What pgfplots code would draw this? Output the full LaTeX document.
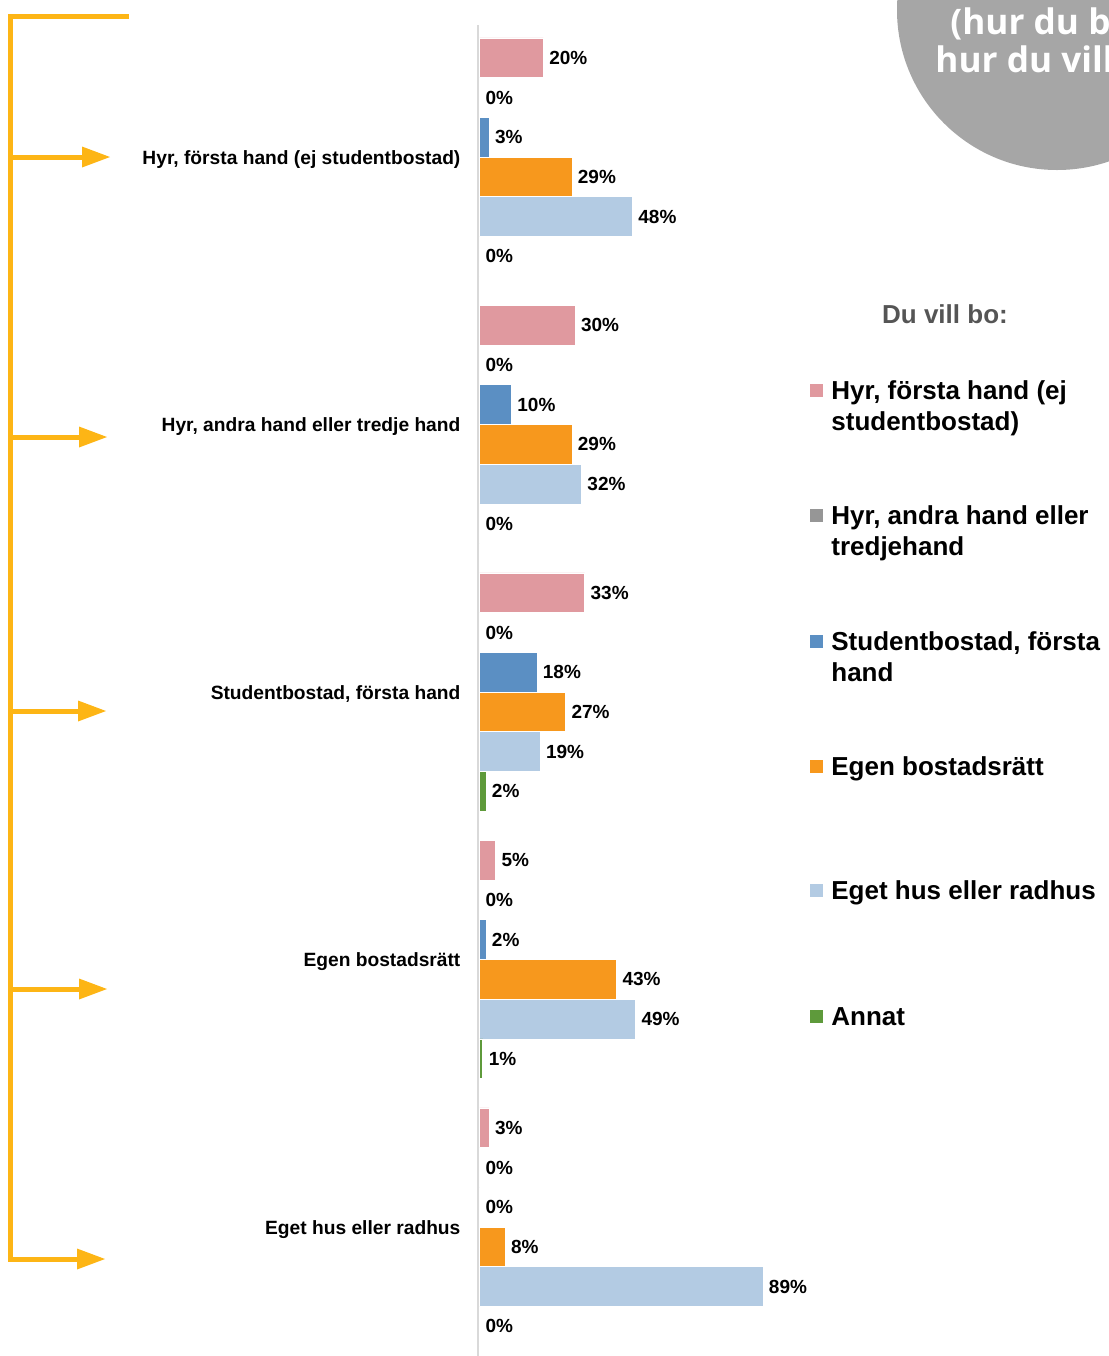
\documentclass[border=0pt]{standalone}
\usepackage{pgfplots}
\pgfplotsset{compat=1.18}
\usepackage{fontspec}
\setmainfont{Liberation Sans}
\newfontfamily\circfont{Open Sans}
\definecolor{cpink}{HTML}{E0999F}
\definecolor{cgray}{HTML}{969696}
\definecolor{cblue}{HTML}{5B8FC3}
\definecolor{corange}{HTML}{F7981D}
\definecolor{clight}{HTML}{B3CBE3}
\definecolor{cgreen}{HTML}{5E9A3B}
\definecolor{arrowc}{HTML}{FDB515}
\definecolor{circgray}{HTML}{A6A6A6}
\definecolor{axisgray}{HTML}{D9D9D9}
\definecolor{titlegray}{HTML}{555555}
\begin{document}
\begin{tikzpicture}
\useasboundingbox (0,0) rectangle (554.5pt,-678pt);
\begin{scope}[x=0.5pt,y=-0.5pt]
\clip (0,0) rectangle (1109,1356);
\fill[circgray] (1057,10) circle[radius=80pt];
\node[anchor=base west, text=white, inner sep=0pt, font=\circfont\bfseries\fontsize{17.6}{20}\selectfont] at (950,34) {(hur du bor)};
\node[anchor=base west, text=white, inner sep=0pt, font=\circfont\bfseries\fontsize{17.6}{20}\selectfont] at (935,72) {hur du vill bo)};
% bracket and arrows
\draw[arrowc, line width=2.5pt] (129,16.5) -- (10.5,16.5) -- (10.5,1259) -- (80,1259);
\fill[arrowc] (77,1248.5) -- (105,1259) -- (77,1269.5) -- cycle;
\foreach \yy/\tip in {157/110, 437/107, 711/106, 989/107}{
  \draw[arrowc, line width=2.5pt] (10.5,\yy) -- (82,\yy);
  \fill[arrowc] (\tip-28,\yy-10.5) -- (\tip,\yy) -- (\tip-28,\yy+10.5) -- cycle;
}
% legend
\node[anchor=base, inner sep=0pt, text=titlegray, font=\bfseries\fontsize{13}{15.5}\selectfont] at (945,323.5) {Du vill bo:};
\foreach \yy/\col in {390/cpink, 515/cgray, 641/cblue, 766/corange, 890/clight, 1016/cgreen}{
  \fill[\col] (810,\yy-6.5) rectangle (823,\yy+6.5);
}
\tikzset{legtxt/.style={anchor=base west, inner sep=0pt, font=\bfseries\fontsize{13}{15.5}\selectfont}}
\node[legtxt] at (831,399.3) {Hyr, första hand (ej};
\node[legtxt] at (831,430.3) {studentbostad)};
\node[legtxt] at (831,524.3) {Hyr, andra hand eller};
\node[legtxt] at (831,555.3) {tredjehand};
\node[legtxt] at (831,650.3) {Studentbostad, första};
\node[legtxt] at (831,681.3) {hand};
\node[legtxt] at (831,775.3) {Egen bostadsrätt};
\node[legtxt] at (831,899.3) {Eget hus eller radhus};
\node[legtxt] at (831,1025.3) {Annat};
\end{scope}
\begin{axis}[
  at={(239pt,-678pt)}, anchor=south west,
  scale only axis, width=160pt, height=665.5pt,
  xbar, bar width=19.85pt,
  xmin=-0.5, xmax=100,
  ymin=-0.4935, ymax=4.482, y dir=reverse,
  axis x line=none, axis y line*=left,
  y axis line style={draw=axisgray, line width=1.4pt, -},
  ytick={0,1,2,3,4},
  yticklabels={{Hyr, första hand (ej studentbostad)},{Hyr, andra hand eller tredje hand},{Studentbostad, första hand},{Egen bostadsrätt},{Eget hus eller radhus}},
  yticklabel style={font=\bfseries\fontsize{9.6}{11}\selectfont, inner sep=0pt, xshift=-8.6pt, yshift=-1.2pt},
  major tick length=0pt,
  /pgf/number format/assume math mode=true,
  nodes near coords={\pgfmathprintnumber{\pgfplotspointmeta}\%},
  every node near coord/.append style={font=\bfseries\fontsize{9.5}{11}\selectfont, inner sep=0pt, xshift=2.8pt, text=black},
  clip=false,
]
\addplot[fill=cpink, draw=white, line width=0.4pt, bar shift=49.625pt] coordinates {(20,0) (30,1) (33,2) (5,3) (3,4)};
\addplot[fill=cgray, draw=white, line width=0.4pt, bar shift=29.775pt] coordinates {(0,0) (0,1) (0,2) (0,3) (0,4)};
\addplot[fill=cblue, draw=white, line width=0.4pt, bar shift=9.925pt] coordinates {(3,0) (10,1) (18,2) (2,3) (0,4)};
\addplot[fill=corange, draw=white, line width=0.4pt, bar shift=-9.925pt] coordinates {(29,0) (29,1) (27,2) (43,3) (8,4)};
\addplot[fill=clight, draw=white, line width=0.4pt, bar shift=-29.775pt] coordinates {(48,0) (32,1) (19,2) (49,3) (89,4)};
\addplot[fill=cgreen, draw=white, line width=0.4pt, bar shift=-49.625pt] coordinates {(0,0) (0,1) (2,2) (1,3) (0,4)};
\end{axis}
\end{tikzpicture}
\end{document}
